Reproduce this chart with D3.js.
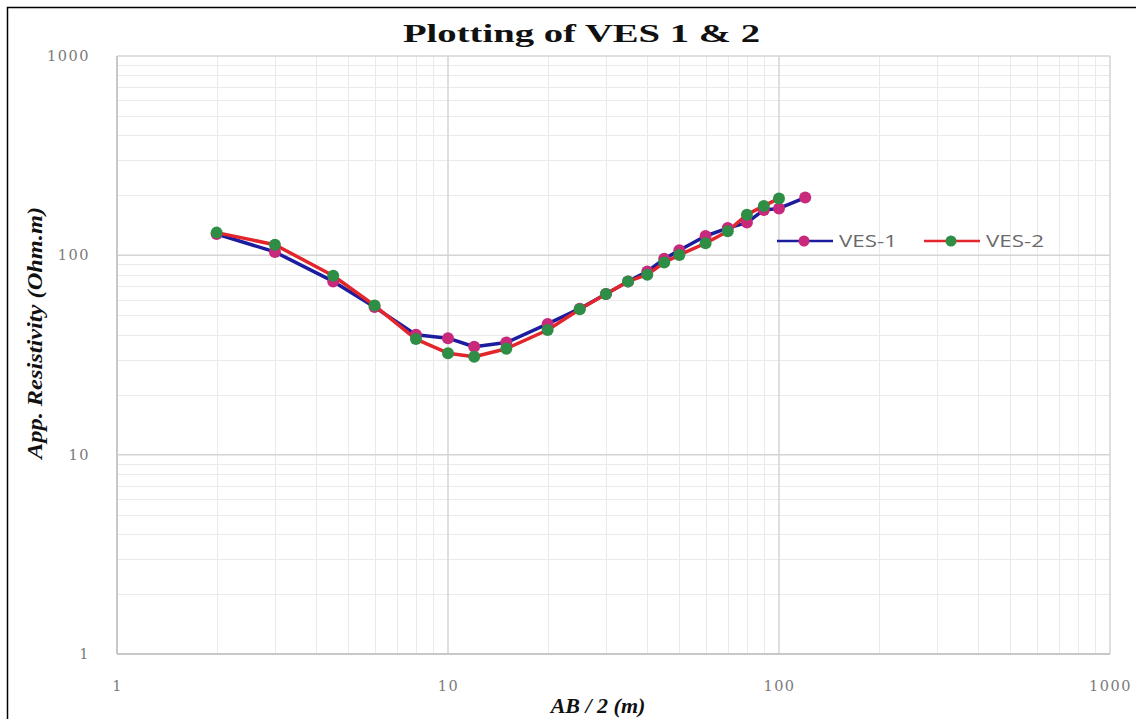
<!DOCTYPE html>
<html>
<head>
<meta charset="utf-8">
<script src="https://cdn.jsdelivr.net/npm/d3@7"></script>
<style>
  html, body { margin: 0; padding: 0; background: #fff; }
  svg { display: block; }
</style>
</head>
<body>
<svg id="chart" width="1136" height="719"></svg>
<script>
// ---- data ----
const abHalf1 = [2, 3, 4.5, 6, 8, 10, 12, 15, 20, 25, 30, 35, 40, 45, 50, 60, 70, 80, 90, 100, 120];
const ves1    = [128, 104, 74, 55, 40, 38.4, 34.8, 36.5, 45.3, 54, 64, 74, 83, 96, 106, 125, 137, 146, 169, 172, 195];
const abHalf2 = [2, 3, 4.5, 6, 8, 10, 12, 15, 20, 25, 30, 35, 40, 45, 50, 60, 70, 80, 90, 100];
const ves2    = [130, 113, 79, 56, 38, 32.3, 31, 34, 42.2, 53.7, 64, 74, 80, 92, 100.5, 115, 132, 160, 177, 193];
const xTicks = [1, 10, 100, 1000];
const yTicks = [1, 10, 100, 1000];
const seriesNames = ["VES-1", "VES-2"];
const titleText = "Plotting of VES 1 & 2";
const xTitle = "AB / 2 (m)";
const yTitle = "App. Resistivity (Ohm.m)";

// ---- layout ----
const svg = d3.select("#chart");
const L = 117, R = 1110, T = 56, B = 654;
const x = d3.scaleLog().domain([1, 1000]).range([L, R]);
const y = d3.scaleLog().domain([1, 1000]).range([B, T]);

// outer frame (top & left visible, cropped image)
svg.append("path").attr("d", `M7.5,725 L7.5,7.5 L1140,7.5`)
  .attr("fill", "none").attr("stroke", "#000").attr("stroke-width", 1.5);

// minor grid
const minors = [];
for (let d = 1; d < 1000; d *= 10) for (let k = 2; k <= 9; k++) minors.push(d * k);
const grid = svg.append("g");
grid.selectAll(".mx").data(minors).join("line")
  .attr("x1", d => Math.round(x(d)) + 0.5).attr("x2", d => Math.round(x(d)) + 0.5)
  .attr("y1", T).attr("y2", B).attr("stroke", "#eaeaea").attr("stroke-width", 1);
grid.selectAll(".my").data(minors).join("line")
  .attr("y1", d => Math.round(y(d)) + 0.5).attr("y2", d => Math.round(y(d)) + 0.5)
  .attr("x1", L).attr("x2", R).attr("stroke", "#eaeaea").attr("stroke-width", 1);
// major grid
grid.selectAll(".Mx").data(xTicks).join("line")
  .attr("x1", d => x(d)).attr("x2", d => x(d))
  .attr("y1", T).attr("y2", B).attr("stroke", "#d4d4d4").attr("stroke-width", 1.5);
grid.selectAll(".My").data(yTicks).join("line")
  .attr("y1", d => y(d)).attr("y2", d => y(d))
  .attr("x1", L).attr("x2", R).attr("stroke", "#d4d4d4").attr("stroke-width", 1.5);
// axis lines
svg.append("line").attr("x1", L).attr("x2", L).attr("y1", T).attr("y2", B).attr("stroke", "#c8c8c8").attr("stroke-width", 2);
svg.append("line").attr("x1", L).attr("x2", R).attr("y1", B).attr("y2", B).attr("stroke", "#c8c8c8").attr("stroke-width", 2);

// axes (labels only)
const xAxis = d3.axisBottom(x).tickValues(xTicks).tickFormat(d3.format("d")).tickSize(0).tickPadding(0);
const gx = svg.append("g").attr("transform", `translate(0,${B + 37})`).call(xAxis);
gx.select(".domain").remove();
gx.selectAll("text").attr("fill", "#7a7a7a").attr("font-family", "'DejaVu Serif', serif")
  .attr("font-size", 14.5).attr("dy", 0).attr("letter-spacing", 1.5);

const yAxis = d3.axisLeft(y).tickValues(yTicks).tickFormat(d3.format("d")).tickSize(0).tickPadding(0);
const gy = svg.append("g").attr("transform", `translate(90,0)`).call(yAxis);
gy.select(".domain").remove();
gy.selectAll("text").attr("fill", "#7a7a7a").attr("font-family", "'DejaVu Serif', serif")
  .attr("font-size", 14.5).attr("letter-spacing", 1.5);

// title
svg.append("text").attr("x", 403).attr("y", 42)
  .attr("font-family", "'Liberation Serif', 'Times New Roman', serif").attr("font-weight", "bold")
  .attr("font-size", 25).attr("fill", "#111")
  .attr("textLength", 357).attr("lengthAdjust", "spacingAndGlyphs").text(titleText);

// axis titles
svg.append("text").attr("x", 598).attr("y", 713).attr("text-anchor", "middle")
  .attr("font-family", "'Liberation Serif', 'Times New Roman', serif").attr("font-weight", "bold")
  .attr("font-style", "italic").attr("font-size", 22).attr("fill", "#111").text(xTitle);
svg.append("text").attr("transform", "translate(42,333) rotate(-90)").attr("text-anchor", "middle")
  .attr("font-family", "'Liberation Serif', 'Times New Roman', serif").attr("font-weight", "bold")
  .attr("font-style", "italic").attr("font-size", 22).attr("fill", "#111")
  .attr("textLength", 252).attr("lengthAdjust", "spacingAndGlyphs").text(yTitle);

// series
const s1 = abHalf1.map((d, i) => [d, ves1[i]]);
const s2 = abHalf2.map((d, i) => [d, ves2[i]]);
const lineGen = d3.line().x(d => x(d[0])).y(d => y(d[1]));
const lineColors = ["#1c1c9e", "#e3262b"];
const markColors = ["#c8297a", "#2f8e45"];

svg.append("path").datum(s1).attr("d", lineGen).attr("fill", "none")
  .attr("stroke", lineColors[0]).attr("stroke-width", 3.5).attr("stroke-linejoin", "round");
svg.append("path").datum(s2).attr("d", lineGen).attr("fill", "none")
  .attr("stroke", lineColors[1]).attr("stroke-width", 3.5).attr("stroke-linejoin", "round");
svg.append("g").selectAll("circle").data(s1).join("circle")
  .attr("cx", d => x(d[0])).attr("cy", d => y(d[1])).attr("r", 6).attr("fill", markColors[0]);
svg.append("g").selectAll("circle").data(s2).join("circle")
  .attr("cx", d => x(d[0])).attr("cy", d => y(d[1])).attr("r", 6).attr("fill", markColors[1]);

// legend
const legend = svg.append("g");
const legX = [777, 924], legY = 241;
seriesNames.forEach((name, i) => {
  const g = legend.append("g").attr("transform", `translate(${legX[i]},${legY})`);
  g.append("line").attr("x1", 0).attr("x2", 56).attr("y1", 0).attr("y2", 0)
    .attr("stroke", lineColors[i]).attr("stroke-width", 2.5);
  g.append("circle").attr("cx", 27).attr("cy", 0).attr("r", 5.5).attr("fill", markColors[i]);
  g.append("text").attr("x", 62).attr("y", 6)
    .attr("font-family", "'Open Sans', 'Liberation Sans', sans-serif").attr("font-size", 16)
    .attr("fill", "#6a6a6a").attr("textLength", 58).attr("lengthAdjust", "spacingAndGlyphs").text(name);
});
</script>
</body>
</html>
